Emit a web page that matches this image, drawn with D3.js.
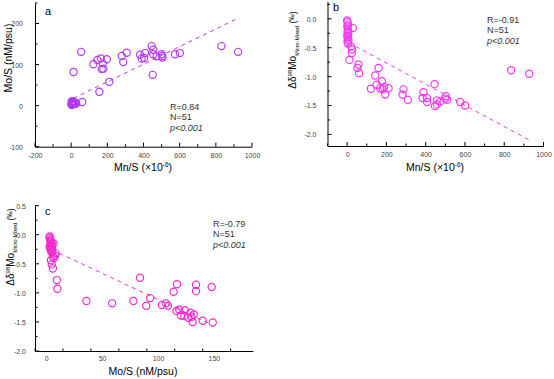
<!DOCTYPE html>
<html><head><meta charset="utf-8">
<script src="https://cdn.jsdelivr.net/npm/d3@7"></script>
<style>body{margin:0;background:#fff}svg{display:block}text{font-family:"Liberation Sans",Arial,sans-serif}</style>
</head><body><svg id="c" width="554" height="379"></svg>
<script>
// Panel a: Mn/S (x10^-6) vs Mo/S (nM/psu)
const aMnS = [55,13,123,145,164,175,197,169,178,156,211,280,288,307,381,390,408,404,445,454,454,451,472,500,504,504,574,601,831,923,61,
  2,3,4,5,6,7,8,9,10,12,14,16,18,20,22,25,28,3,5,8];
const aMoS = [131,82,101,111,115,103,113,89,90,34,58,121,106,129,124,115,128,116,145,136,125,75,120,125,117,121,125,128,145,131,9,
  2,4,3,5,6,3,7,4,8,5,6,4,7,5,8,6,5,10,9,11];
const aLine = [[13,18],[923,213]];
// Panel b: Mn/S vs d98Mo
const bMnS = [29,12,20,25,24,58,53,61,121,143,160,151,168,177,182,188,194,211,287,282,309,389,384,406,407,445,447,457,457,474,503,508,499,576,601,835,927,
  0,2,4,1,3,5,2,6,1,4,3,7,2,5];
const bD98 = [-0.16,-0.71,-0.48,-0.53,-0.59,-0.79,-0.85,-0.94,-1.21,-0.98,-0.85,-1.14,-1.2,-1.08,-1.22,-1.18,-1.31,-1.2,-1.22,-1.31,-1.4,-1.27,-1.37,-1.37,-1.44,-1.13,-1.51,-1.41,-1.48,-1.43,-1.34,-1.4,-1.38,-1.44,-1.5,-0.89,-0.95,
  -0.03,-0.06,-0.1,-0.13,-0.17,-0.2,-0.23,-0.26,-0.29,-0.31,-0.34,-0.37,-0.4,-0.43];
const bLine = [[45,-0.48],[924,-2.09]];
// Panel c: Mo/S vs d98Mo
const cMoS = [36,59,78,84,89.5,93,103.5,107,109,114,117,116.5,119,120.5,123.5,124,127,129,130,131,134,134,132,140,148,149,
  9.6,10,6,5,4.2,8,7,6.6,8.5,5.5,3,3.5,4,4.5,5,3,3.5,4,4.5,5,3.2,3.8,4.4,5.2,6];
const cD98 = [-1.14,-1.18,-1.14,-0.74,-1.22,-1.09,-1.21,-1.18,-1.22,-0.98,-0.85,-1.31,-1.29,-1.39,-1.4,-1.3,-1.43,-1.34,-1.41,-1.5,-0.86,-0.97,-1.37,-1.48,-0.9,-1.51,
  -0.78,-0.93,-0.58,-0.51,-0.44,-0.36,-0.4,-0.15,-0.32,-0.3,-0.05,-0.08,-0.1,-0.13,-0.16,-0.2,-0.23,-0.26,-0.29,-0.21,-0.03,-0.12,-0.18,-0.25,-0.38];
const cLine = [[12,-0.32],[145,-1.52]];

const aXTicks = [-200,0,200,400,600,800,1000], aYTicks = [-100,0,100,200];
const bXTicks = [0,200,400,600,800,1000], bYTicks = [0,-0.5,-1,-1.5,-2];
const cXTicks = [0,50,100,150], cYTicks = [0.5,0,-0.5,-1,-1.5,-2];

const svg = d3.select("#c");
const f1 = v => v.toFixed(1);
const f0 = v => String(v);

function panel(o){
  const x = d3.scaleLinear().domain(o.xd).range(o.xr);
  const y = d3.scaleLinear().domain(o.yd).range(o.yr);
  const g = svg.append("g");
  const xAxis = d3.axisBottom(x).tickValues(o.xt).tickSize(0).tickPadding(0).tickFormat(o.xf);
  const gx = g.append("g").attr("transform",`translate(0,${o.yr[0]})`).call(xAxis);
  gx.select(".domain").attr("stroke","#000").attr("stroke-width",1);
  gx.selectAll(".tick text").attr("y",o.xlab).attr("dy",0).attr("font-size",7).attr("fill","#444").attr("font-family","Liberation Sans, Arial, sans-serif");
  const yAxis = d3.axisLeft(y).tickValues(o.yt).tickSize(0).tickPadding(0).tickFormat(o.yf);
  const gy = g.append("g").attr("transform",`translate(${o.xr[0]},0)`).call(yAxis);
  gy.select(".domain").attr("stroke","#000").attr("stroke-width",1);
  gy.selectAll(".tick text").attr("x",-o.ylab).attr("dy","0.35em").attr("font-size",7).attr("fill","#444").attr("font-family","Liberation Sans, Arial, sans-serif");
  const xmin = d3.range(o.xd[0], o.xd[1]+1e-9, o.xm);
  g.append("g").selectAll("line").data(xmin).join("line")
    .attr("x1",d=>x(d)).attr("x2",d=>x(d)).attr("y1",o.yr[0]).attr("y2",d=>o.yr[0]-(o.xt.some(t=>Math.abs(t-d)<1e-6)?4:2.5))
    .attr("stroke","#000").attr("stroke-width",1);
  const ymin = d3.range(o.ym0, o.yd[1]+1e-9, o.ym);
  g.append("g").selectAll("line").data(ymin).join("line")
    .attr("y1",d=>y(d)).attr("y2",d=>y(d)).attr("x1",o.xr[0]).attr("x2",d=>o.xr[0]+(o.yt.some(t=>Math.abs(t-d)<1e-6)?4:2.5))
    .attr("stroke","#000").attr("stroke-width",1);
  g.append("line").attr("x1",x(o.line[0][0])).attr("y1",y(o.line[0][1])).attr("x2",x(o.line[1][0])).attr("y2",y(o.line[1][1]))
    .attr("stroke",o.col).attr("stroke-width",1).attr("stroke-dasharray","4,4");
  g.append("g").selectAll("circle").data(o.xs.map((v,i)=>[v,o.ys[i]])).join("circle")
    .attr("cx",d=>x(d[0])).attr("cy",d=>y(d[1])).attr("r",3.6)
    .attr("fill","none").attr("stroke",o.col).attr("stroke-width",1.2);
  g.append("text").attr("x",o.lt[0]).attr("y",o.lt[1]).attr("font-size",11).text(o.letter);
  const st = g.append("g").attr("font-size",9).attr("fill","#333");
  st.append("text").attr("x",o.st[0]).attr("y",o.st[1]).text(o.R);
  st.append("text").attr("x",o.st[0]).attr("y",o.st[1]+10).text("N=51");
  st.append("text").attr("x",o.st[0]).attr("y",o.st[1]+21).attr("font-style","italic").text("p<0.001");
  const xt = g.append("text").attr("x",o.xtit[0]).attr("y",o.xtit[1]).attr("text-anchor","middle").attr("font-size",10.5);
  o.xtitle(xt);
  const yt = g.append("text").attr("transform",`translate(${o.ytit[0]},${o.ytit[1]}) rotate(-90)`).attr("text-anchor","middle").attr("font-size",o.ytfs||10.5);
  o.ytitle(yt);
}
function mnTitle(t){
  t.append("tspan").text("Mn/S (\u00d710");
  t.append("tspan").attr("font-size",6.5).attr("dy",-4).text("-6");
  t.append("tspan").attr("dy",4).text(")");
}
function moTitle(t){ t.text("Mo/S (nM/psu)"); }
function dTitle(t){
  t.append("tspan").text("\u0394\u03b4");
  t.append("tspan").attr("font-size",6).attr("dy",-4).text("98");
  t.append("tspan").attr("dy",4).text("Mo");
  t.append("tspan").attr("font-size",5.5).attr("dy",2.5).text("Micro-Mixed");
  t.append("tspan").attr("dy",-2.5).attr("font-size",8.5).text(" (");
  t.append("tspan").attr("font-size",6.5).attr("dy",-2).text("\u2030");
  t.append("tspan").attr("font-size",8.5).attr("dy",2).text(")");
}

panel({xd:[-200,1000], xr:[35,252], yd:[-100,250], yr:[146.7,3], xt:aXTicks, yt:aYTicks, xm:100, ym:50, ym0:-100,
  xf:f0, yf:f0, xlab:11, ylab:12, line:aLine, xs:aMnS, ys:aMoS, col:"#b43cf0", letter:"a", lt:[45,15],
  st:[170,110], R:"R=0.84", xtit:[143,171], ytit:[12,58], xtitle:mnTitle, ytitle:moTitle});
panel({xd:[-100,1000], xr:[327.5,543.5], yd:[-2.2,0.3], yr:[146,1.5], xt:bXTicks, yt:bYTicks, xm:100, ym:0.25, ym0:-2.0,
  xf:f0, yf:f1, xlab:11, ylab:11, line:bLine, xs:bMnS, ys:bD98, col:"#ee3cee", letter:"b", lt:[333,11],
  st:[487,22.5], R:"R=-0.91", xtit:[435,171], ytit:[296,50], ytfs:10, xtitle:mnTitle, ytitle:dTitle});
panel({xd:[-10,185], xr:[35,253], yd:[-2.0,0.5], yr:[351,205.7], xt:cXTicks, yt:cYTicks, xm:25, ym:0.25, ym0:-2.0,
  xf:f0, yf:f1, xlab:10, ylab:9, line:cLine, xs:cMoS, ys:cD98, col:"#f02cd0", letter:"c", lt:[45,215],
  st:[213,226.5], R:"R=-0.79", xtit:[143,375], ytit:[14,247], ytfs:10, xtitle:moTitle, ytitle:dTitle});
svg.selectAll(".tick text").each(function(){ const s=d3.select(this); s.text(s.text().replace("\u2212","-")); });
</script></body></html>
